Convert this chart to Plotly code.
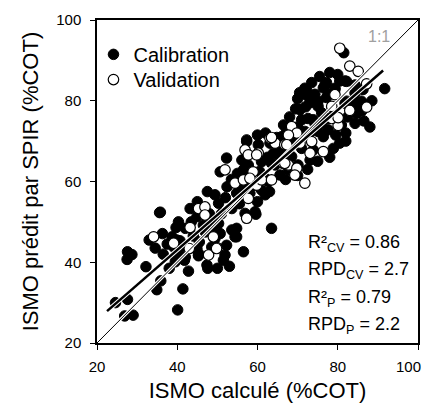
import plotly.graph_objects as go

# ---- Data ----
cal_x = [24.6, 27.6, 26.9, 29.0, 40.1, 34.9, 35.9, 41.4, 27.6, 28.7, 27.5, 32.2, 36.3, 38.7, 39.7, 40.7, 40.3, 39.5,
         41.5, 41.8, 42.8, 44.9, 45.3, 47.4, 47.6, 35.8, 35.6, 39.5,
         63.5, 56.5, 51.9, 51.5, 54.4, 54.8, 53.6, 59.4, 56.9, 52.3, 49.4, 50.7, 48.6, 45.3, 42.0, 39.9, 39.1,
         40.3, 43.2, 44.9, 42.0, 46.5, 48.6, 50.3, 49.4, 50.3, 52.4, 54.8, 53.6, 50.7, 52.3, 56.5, 60.2, 57.3,
         61.0, 63.5, 65.2, 61.9, 61.0, 65.2, 59.6, 54.8, 45.3, 45.0, 47.5, 48.0,
         72.2, 76.8, 79.3, 82.2, 84.3, 74.3, 75.1, 77.2, 81.8, 83.4, 72.6, 74.3, 77.6, 80.9, 84.3, 77.6, 76.4,
         80.5, 78.9, 57.3, 63.1, 66.0, 68.9, 71.0, 66.4, 68.5, 56.1, 57.7, 56.5, 64.4, 65.6, 67.7, 62.7, 59.4,
         55.6, 58.1, 61.9, 70.1, 73.1, 73.9, 71.0, 71.8, 75.1,
         81.5, 86.3, 91.7, 81.8, 71.8, 74.3, 76.4, 77.6, 75.1, 73.1, 80.5, 84.3, 82.2, 84.7, 85.9, 84.7,
         71.8, 77.2, 79.3, 73.1, 70.6, 73.9, 67.3, 64.8,
         70.0, 69.5, 72.0, 76.0, 79.0, 82.5, 86.0, 88.5, 75.5, 78.0, 80.0, 73.5, 70.5, 68.0, 66.5, 70.0,
         73.0, 76.0, 79.5, 82.0, 86.5, 88.0, 62.0, 60.0, 64.0, 62.5, 58.0, 60.5, 55.0, 53.5, 57.0, 52.0,
         55.5, 51.0, 48.5, 47.0, 44.0, 45.5, 43.5, 37.5, 36.5, 34.5, 33.0, 38.0, 50.0, 53.0, 60.0, 63.0,
         67.0, 70.0, 72.5, 75.0, 78.0, 82.0]
cal_y = [30.0, 30.8, 26.7, 26.9, 28.2, 33.2, 35.4, 33.4, 42.6, 41.9, 40.7, 38.9, 47.1, 46.3, 48.6, 45.3, 42.7, 41.5,
         44.2, 40.5, 37.8, 43.4, 41.8, 39.3, 38.5, 52.4, 52.3, 40.1,
         48.4, 42.6, 41.8, 40.5, 46.3, 48.4, 48.0, 52.5, 52.1, 44.2, 45.9, 47.1, 43.8, 42.2, 41.3, 45.5, 43.8,
         50.0, 53.3, 51.3, 48.4, 49.2, 48.0, 49.6, 56.7, 54.6, 58.7, 57.1, 53.3, 62.4, 65.8, 65.3, 69.1, 69.9,
         64.9, 64.5, 66.6, 60.8, 57.9, 68.6, 51.9, 46.3, 41.6, 55.0, 57.5, 52.0,
         82.7, 83.9, 83.1, 84.8, 83.9, 80.2, 78.6, 80.8, 79.4, 78.2, 75.6, 74.4, 75.6, 74.0, 74.4, 72.8, 71.1,
         69.5, 68.2, 70.3, 69.5, 71.1, 69.9, 68.2, 67.4, 66.2, 65.3, 64.1, 62.9, 64.1, 61.6, 62.9, 60.0, 59.1,
         57.9, 57.1, 56.7, 64.1, 65.3, 67.8, 75.3, 72.4, 72.4,
         91.9, 82.8, 83.0, 84.9, 81.6, 81.6, 83.2, 81.6, 79.9, 79.5, 84.9, 81.9, 79.9, 79.5, 79.9, 76.9,
         83.1, 84.5, 82.8, 80.2, 77.8, 75.3, 72.5, 70.9,
         80.5, 78.0, 78.5, 77.0, 76.5, 76.0, 77.5, 80.0, 86.0, 87.0, 86.5, 84.5, 82.0, 76.0, 74.0, 73.5,
         72.0, 74.5, 71.5, 72.0, 75.0, 73.5, 72.0, 71.5, 67.0, 66.0, 63.0, 62.5, 62.0, 60.5, 59.0, 56.0,
         54.5, 52.0, 50.5, 47.5, 46.5, 45.0, 50.0, 44.5, 42.0, 43.5, 45.5, 38.5, 38.5, 39.0, 55.0, 57.5,
         60.5, 61.5, 63.0, 65.0, 66.0, 70.0]

val_x = [34.1, 39.1, 43.2, 43.0, 47.8, 49.0, 49.9,
         56.9, 60.2, 64.4, 66.8, 51.9, 58.9, 54.4, 56.5, 58.1, 59.8, 61.0, 63.5, 66.4, 57.7, 45.3, 46.9, 46.9,
         57.3, 49.8,
         68.5, 69.8, 67.7, 63.1, 67.3, 70.6, 73.5, 73.1, 76.4, 80.1, 83.0, 79.3, 78.5, 78.5, 57.7, 59.8, 67.7,
         69.8, 69.3, 71.8, 66.8,
         80.5, 83.0, 85.1, 87.2, 87.2, 80.1, 63.5]
val_y = [46.3, 44.7, 48.6, 43.4, 41.8, 46.3, 43.6,
         67.8, 67.0, 69.5, 69.1, 62.9, 62.4, 59.6, 60.4, 60.8, 59.1, 60.4, 60.4, 64.5, 55.8, 53.3, 53.7, 51.7,
         50.9, 43.4,
         73.6, 72.0, 71.5, 70.7, 69.1, 69.5, 69.9, 67.0, 67.4, 73.9, 77.6, 81.5, 78.6, 75.6, 66.6, 66.6, 64.1,
         63.3, 61.6, 59.6, 64.5,
         93.0, 88.6, 87.3, 84.2, 78.4, 75.8, 70.9]

one_x = [20, 100]
one_y = [20, 100]
reg_x = [22.5, 91.3]
reg_y = [27.9, 87.5]

stats_lines = ["R²<sub>CV</sub> = 0.86", "RPD<sub>CV</sub> = 2.7", "R²<sub>P</sub> = 0.79", "RPD<sub>P</sub> = 2.2"]
tick_vals = [20, 40, 60, 80, 100]
tick_text = ["20", "40", "60", "80", "100"]

FONT = "Liberation Sans, Arial, sans-serif"

fig = go.Figure()
fig.add_trace(go.Scatter(x=cal_x, y=cal_y, mode="markers", name="Calibration", legend="legend",
                         marker=dict(size=10.5, color="black", line=dict(color="black", width=1))))
fig.add_trace(go.Scatter(x=val_x, y=val_y, mode="markers", name="Validation", legend="legend2",
                         marker=dict(size=10.5, color="white", line=dict(color="black", width=1.2))))
# 1:1 line with white halo
fig.add_trace(go.Scatter(x=one_x, y=one_y, mode="lines", showlegend=False,
                         line=dict(color="white", width=3)))
fig.add_trace(go.Scatter(x=one_x, y=one_y, mode="lines", showlegend=False,
                         line=dict(color="black", width=1)))
# regression line with white halo
fig.add_trace(go.Scatter(x=reg_x, y=reg_y, mode="lines", showlegend=False,
                         line=dict(color="white", width=4.5)))
fig.add_trace(go.Scatter(x=reg_x, y=reg_y, mode="lines", showlegend=False,
                         line=dict(color="black", width=2.5)))

axis_common = dict(range=[20, 100], ticks="outside", ticklen=5, tickwidth=1, automargin=False,
                   tickcolor="black", showline=True, linecolor="black", linewidth=1.5, mirror=True,
                   showgrid=False, zeroline=False, tickfont=dict(size=15, color="black", family=FONT))

# the last x label is drawn as a right-aligned annotation so it stays inside the picture, as in the reference
x_tick_text = tick_text[:-1] + [""]

legend_common = dict(x=-0.011, xanchor="left", yanchor="top", bgcolor="rgba(0,0,0,0)",
                     font=dict(size=20, color="black"))

fig.update_layout(
    width=433, height=403,
    margin=dict(l=97, r=15, t=20, b=60),
    plot_bgcolor="white", paper_bgcolor="white",
    font=dict(family=FONT, color="black"),
    xaxis=dict(**axis_common, tickvals=tick_vals, ticktext=x_tick_text, ticklabelstandoff=4,
               title=dict(text="ISMO calculé (%COT)", font=dict(size=22), standoff=10)),
    yaxis=dict(**axis_common, tickvals=tick_vals, ticktext=tick_text, ticklabelstandoff=6,
               title=dict(text="ISMO prédit par SPIR (%COT)", font=dict(size=22), standoff=12)),
    legend=dict(**legend_common, y=0.954),
    legend2=dict(**legend_common, y=0.876),
    showlegend=True,
)

fig.add_annotation(text=tick_text[-1], xref="x", yref="paper", x=tick_vals[-1], y=0,
                   xanchor="right", yanchor="middle", xshift=5, yshift=-23, showarrow=False,
                   font=dict(size=15, color="black"))

ys = [0.309, 0.225, 0.139, 0.055]
for txt, yy in zip(stats_lines, ys):
    fig.add_annotation(text=txt, xref="paper", yref="paper", x=0.652, y=yy, xanchor="left",
                       yanchor="middle", showarrow=False, font=dict(size=18, color="black"))

fig.add_annotation(text="1:1", xref="x", yref="y", x=90.2, y=96, showarrow=False,
                   font=dict(size=16, color="#a0a0a0"))

# remove the browser's default 8px body margin so the 433x403 figure fills the window exactly
fig.write_html("out.html", config={"displayModeBar": False},
               post_script="document.body.style.margin='0';")
